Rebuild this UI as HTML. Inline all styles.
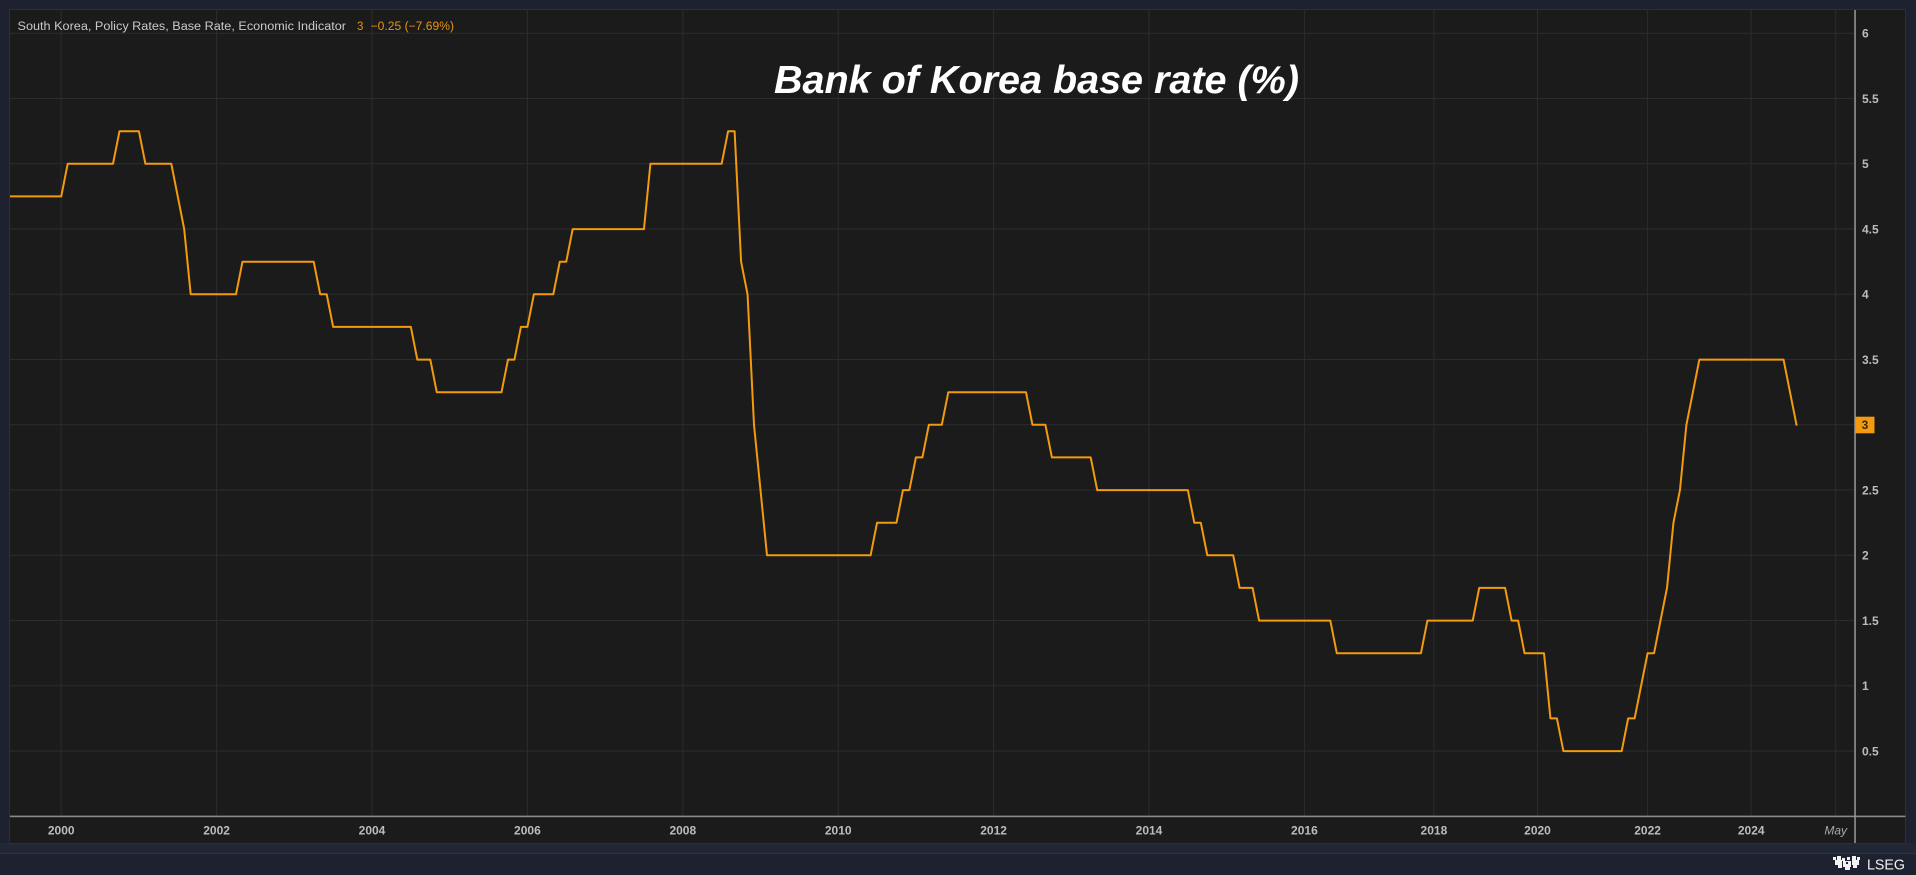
<!DOCTYPE html>
<html>
<head>
<meta charset="utf-8">
<style>
  html,body{margin:0;padding:0;background:#1e2230;}
  svg{display:block;}
  text{font-family:"Liberation Sans",Arial,sans-serif;}
</style>
</head>
<body>
<svg width="1916" height="875" viewBox="0 0 1916 875" xmlns="http://www.w3.org/2000/svg">
  <defs>
    <clipPath id="plot"><rect x="10" y="10" width="1845" height="806"/></clipPath>
  </defs>
  <!-- outer background -->
  <rect x="0" y="0" width="1916" height="875" fill="#1e2230"/>
  <rect x="0" y="843" width="1916" height="10" fill="#222736"/>
  <rect x="0" y="853" width="1916" height="1" fill="#2f3443"/>
  <!-- panel -->
  <rect x="9.5" y="9.5" width="1896" height="834" fill="#1b1b1b" stroke="#2a2f3b" stroke-width="1"/>

  <!-- horizontal gridlines -->
  <g stroke="#2c2c2c" stroke-width="1">
    <line x1="10" x2="1855" y1="33.3" y2="33.3"/>
    <line x1="10" x2="1855" y1="98.55" y2="98.55"/>
    <line x1="10" x2="1855" y1="163.8" y2="163.8"/>
    <line x1="10" x2="1855" y1="229.05" y2="229.05"/>
    <line x1="10" x2="1855" y1="294.3" y2="294.3"/>
    <line x1="10" x2="1855" y1="359.55" y2="359.55"/>
    <line x1="10" x2="1855" y1="424.8" y2="424.8"/>
    <line x1="10" x2="1855" y1="490.05" y2="490.05"/>
    <line x1="10" x2="1855" y1="555.3" y2="555.3"/>
    <line x1="10" x2="1855" y1="620.55" y2="620.55"/>
    <line x1="10" x2="1855" y1="685.8" y2="685.8"/>
    <line x1="10" x2="1855" y1="751.05" y2="751.05"/>
  </g>
  <!-- vertical gridlines -->
  <g stroke="#2c2c2c" stroke-width="1">
    <line y1="10" y2="816" x1="61.2" x2="61.2"/>
    <line y1="10" y2="816" x1="216.6" x2="216.6"/>
    <line y1="10" y2="816" x1="372" x2="372"/>
    <line y1="10" y2="816" x1="527.4" x2="527.4"/>
    <line y1="10" y2="816" x1="682.8" x2="682.8"/>
    <line y1="10" y2="816" x1="838.2" x2="838.2"/>
    <line y1="10" y2="816" x1="993.6" x2="993.6"/>
    <line y1="10" y2="816" x1="1149" x2="1149"/>
    <line y1="10" y2="816" x1="1304.4" x2="1304.4"/>
    <line y1="10" y2="816" x1="1433.9" x2="1433.9"/>
    <line y1="10" y2="816" x1="1537.5" x2="1537.5"/>
    <line y1="10" y2="816" x1="1647.6" x2="1647.6"/>
    <line y1="10" y2="816" x1="1751.2" x2="1751.2"/>
    <line y1="10" y2="816" x1="1835.7" x2="1835.7"/>
  </g>

  <!-- header -->
  <text x="17.5" y="29.8" font-size="11.5" fill="#c9c9c9" textLength="328.5" lengthAdjust="spacingAndGlyphs">South Korea, Policy Rates, Base Rate, Economic Indicator</text>
  <text x="357" y="29.8" font-size="11.5" fill="#e8940f">3</text>
  <text x="370.6" y="29.8" font-size="11.5" fill="#e8940f" textLength="83.4" lengthAdjust="spacingAndGlyphs">−0.25 (−7.69%)</text>

  <!-- title -->
  <text x="774" y="93" font-size="38.5" font-weight="bold" font-style="italic" fill="#ffffff" textLength="525" lengthAdjust="spacingAndGlyphs">Bank of Korea base rate (%)</text>

  <!-- series -->
  <polyline clip-path="url(#plot)" fill="none" stroke="#f39a0e" stroke-width="2" stroke-linejoin="round" stroke-linecap="round"
    points="2.9,196.4 61.2,196.4 67.7,163.8 113.0,163.8 119.5,131.2 138.9,131.2 145.4,163.8 171.3,163.8 177.75,196.4 184.2,229.1 190.7,294.3 236.0,294.3 242.5,261.7 313.7,261.7 320.2,294.3 326.7,294.3 333.15,326.9 410.85,326.9 417.3,359.6 430.3,359.6 436.75,392.2 501.5,392.2 508.0,359.6 514.45,359.6 520.9,326.9 527.4,326.9 533.9,294.3 553.3,294.3 559.8,261.7 566.25,261.7 572.7,229.1 643.95,229.1 650.4,163.8 721.65,163.8 728.1,131.2 734.6,131.2 741.1,261.7 747.55,294.3 754.0,424.8 760.5,490.1 767.0,555.3 870.6,555.3 877.05,522.7 896.5,522.7 902.95,490.1 909.4,490.1 915.9,457.4 922.4,457.4 928.85,424.8 941.8,424.8 948.3,392.2 1026.0,392.2 1032.45,424.8 1045.4,424.8 1051.9,457.4 1090.7,457.4 1097.2,490.1 1187.85,490.1 1194.3,522.7 1200.8,522.7 1207.3,555.3 1233.2,555.3 1239.65,587.9 1252.6,587.9 1259.1,620.6 1330.3,620.6 1336.8,653.2 1420.95,653.2 1427.4,620.6 1472.75,620.6 1479.2,587.9 1505.1,587.9 1511.6,620.6 1518.1,620.6 1524.55,653.2 1544.0,653.2 1550.45,718.4 1556.9,718.4 1563.4,751.1 1621.7,751.1 1628.15,718.4 1634.6,718.4 1641.1,685.8 1647.6,653.2 1654.05,653.2 1660.5,620.6 1667.0,587.9 1673.45,522.7 1679.95,490.1 1686.4,424.8 1692.9,392.2 1699.35,359.6 1783.55,359.6 1790.0,392.2 1796.5,424.8"/>

  <!-- axes -->
  <rect x="10" y="815.6" width="1895.5" height="1.6" fill="#8a8a8a"/>
  <rect x="1854.3" y="10" width="1.5" height="833" fill="#9a9a9a"/>

  <!-- y-axis labels -->
  <g font-size="12" font-weight="bold" fill="#bcbcbc">
    <text x="1862" y="37.6">6</text>
    <text x="1862" y="102.9">5.5</text>
    <text x="1862" y="168.1">5</text>
    <text x="1862" y="233.4">4.5</text>
    <text x="1862" y="298.6">4</text>
    <text x="1862" y="363.9">3.5</text>
    <text x="1862" y="494.4">2.5</text>
    <text x="1862" y="559.6">2</text>
    <text x="1862" y="624.9">1.5</text>
    <text x="1862" y="690.1">1</text>
    <text x="1862" y="755.4">0.5</text>
  </g>
  <!-- last value badge -->
  <rect x="1855.5" y="416.7" width="19" height="16.6" fill="#f39a0e"/>
  <text x="1865" y="429.2" font-size="12" font-weight="bold" fill="#3a2a10" text-anchor="middle">3</text>

  <!-- x-axis labels -->
  <g font-size="12" font-weight="bold" fill="#bcbcbc" text-anchor="middle">
    <text x="61.2" y="834.4">2000</text>
    <text x="216.6" y="834.4">2002</text>
    <text x="372" y="834.4">2004</text>
    <text x="527.4" y="834.4">2006</text>
    <text x="682.8" y="834.4">2008</text>
    <text x="838.2" y="834.4">2010</text>
    <text x="993.6" y="834.4">2012</text>
    <text x="1149" y="834.4">2014</text>
    <text x="1304.4" y="834.4">2016</text>
    <text x="1433.9" y="834.4">2018</text>
    <text x="1537.5" y="834.4">2020</text>
    <text x="1647.6" y="834.4">2022</text>
    <text x="1751.2" y="834.4">2024</text>
    <text x="1835.7" y="834.4" font-style="italic" font-weight="normal" fill="#a8a8a8">May</text>
  </g>

  <!-- LSEG logo -->
  <g fill="#f2f2f2">
    <rect x="1833" y="857" width="3" height="3"/>
    <rect x="1837" y="856" width="4" height="4"/>
    <rect x="1842" y="858" width="3" height="3"/>
    <rect x="1847" y="857" width="3" height="3"/>
    <rect x="1852" y="856" width="4" height="4"/>
    <rect x="1857" y="857" width="3" height="3"/>
    <rect x="1835" y="860" width="7" height="5"/>
    <rect x="1843" y="861" width="8" height="6"/>
    <rect x="1852" y="860" width="7" height="5"/>
    <rect x="1838" y="865" width="4" height="3"/>
    <rect x="1845" y="867" width="5" height="3"/>
    <rect x="1853" y="865" width="4" height="3"/>
  </g>
  <rect x="1846" y="862" width="2" height="2" fill="#1e2230"/>
  <text x="1867" y="869.5" font-size="14.5" fill="#f2f2f2" textLength="38" lengthAdjust="spacingAndGlyphs">LSEG</text>
</svg>
</body>
</html>
